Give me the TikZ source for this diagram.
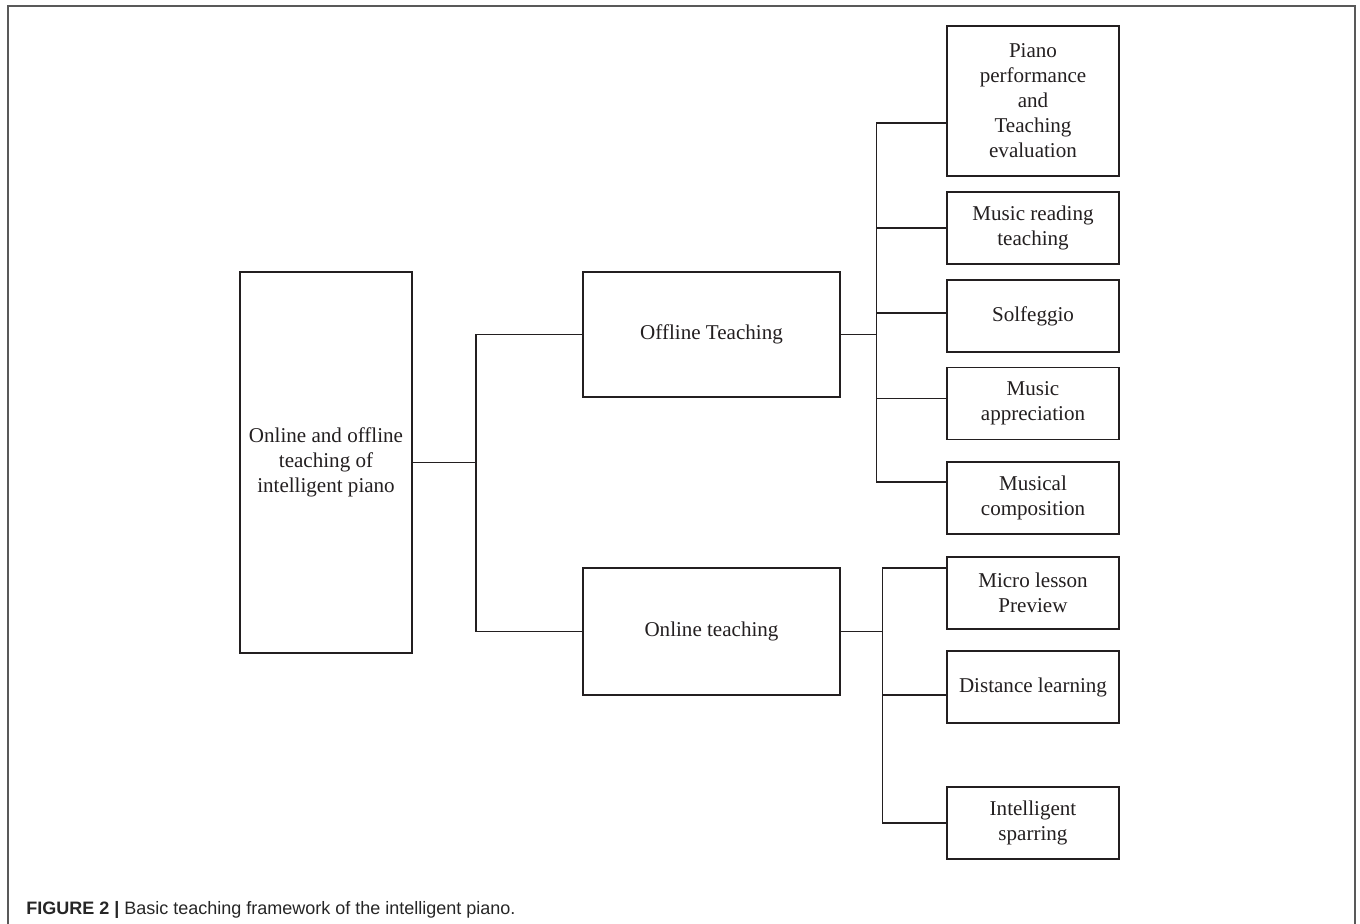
\documentclass[tikz,border=0pt]{standalone}
\usepackage{fontspec}
\setmainfont{Liberation Serif}
\newfontfamily\capfont{Liberation Sans}
\usetikzlibrary{calc}
\definecolor{ink}{HTML}{231F20}
\begin{document}
\begin{tikzpicture}[x=0.75pt,y=-0.75pt,
  box/.style={draw=ink,line width=1.1pt,align=center,text=ink,
    font=\fontsize{15.8}{18.75}\selectfont,inner sep=0pt,anchor=center},
  rbox/.style={box,minimum width=129pt,minimum height=54pt},
  link/.style={draw=ink,line width=1.1pt},
  frame/.style={draw=black!65,line width=1.5pt}]
\useasboundingbox (0,0) rectangle (1360,924);
\draw[frame] (8,950) -- (8,6) -- (1355,6) -- (1355,950);

\node[box,minimum width=129pt,minimum height=285.75pt] (root) at (326,462.5)
  {Online and offline\\teaching of\\intelligent piano};
\node[box,minimum width=192.75pt,minimum height=93.75pt] (off) at (711.5,334.5) {Offline Teaching};
\node[box,minimum width=192.75pt,minimum height=95.25pt] (on) at (711.5,631.5) {Online teaching};

\node[box,minimum width=129pt,minimum height=112.5pt] (piano) at (1033,101)
  {Piano\\performance\\and\\Teaching\\evaluation};
\node[rbox] (read) at (1033,228) {Music reading\\teaching};
\node[rbox] (solf) at (1033,316) {Solfeggio};
\node[rbox] (appr) at (1033,403.5) {Music\\appreciation};
\node[rbox] (comp) at (1033,498) {Musical\\composition};

\node[rbox] (micro) at (1033,593) {Micro lesson\\Preview};
\node[rbox] (dist) at (1033,687) {Distance learning};
\node[rbox] (spar) at (1033,823) {Intelligent\\sparring};

\coordinate (j1) at (476,0);
\coordinate (j2) at (877,0);
\coordinate (j3) at (883,0);

% root to level 2
\draw[link] (root.east) -- (root.east -| j1);
\draw[link] (off.west) -| (j1 |- on.west) -- (on.west);

% offline bus
\draw[link] (off.east) -- (off.east -| j2);
\draw[link] ($(piano.west)+(0,22)$) -- ++(-70,0) |- ($(comp.west)+(0,-16)$);
\draw[link] (read.west) -- (read.west -| j2);
\draw[link] ($(solf.west)+(0,-3)$) -- ++(-70,0);
\draw[link] ($(appr.west)+(0,-5)$) -- ++(-70,0);

% online bus
\draw[link] (on.east) -- (on.east -| j3);
\draw[link] ($(micro.west)+(0,-25)$) -- ++(-64,0) |- (spar.west);
\draw[link] ($(dist.west)+(0,8)$) -- ++(-64,0);

\node[anchor=base west,inner sep=0pt,text=black!85,
  font=\capfont\fontsize{13.5}{16}\selectfont] (cap) at (26,914)
  {\textbf{FIGURE 2 |} Basic teaching framework of the intelligent piano.};
\end{tikzpicture}
\end{document}
